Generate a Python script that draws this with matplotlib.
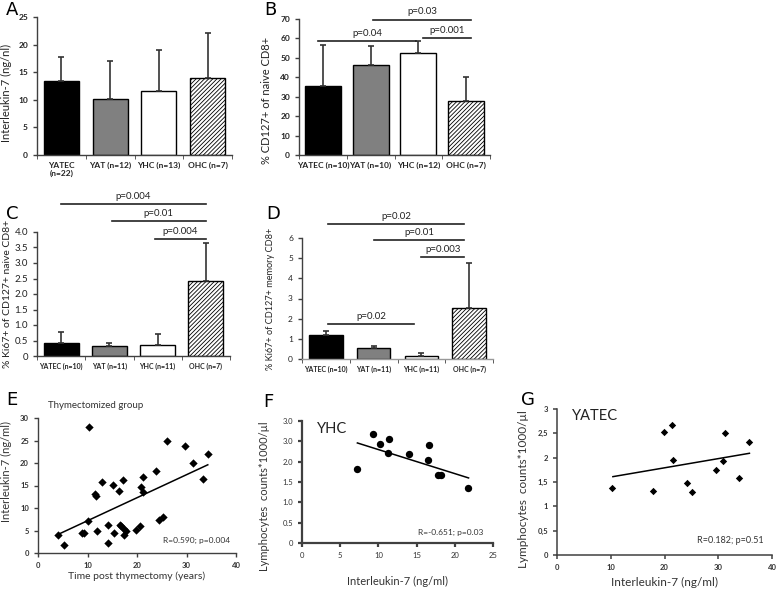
import numpy as np
import matplotlib
matplotlib.use("Agg")
import matplotlib.pyplot as plt

plt.rcParams['font.family'] = ['Lato', 'DejaVu Sans']
plt.rcParams['hatch.linewidth'] = 0.6

W, H = 778, 591

# Panel A-D : bar charts (mean, top of the error bar)
labels_a = ["YATEC\n(n=22)", "YAT (n=12)", "YHC (n=13)", "OHC (n=7)"]
il7_mean = [13.4, 10.2, 11.6, 13.9]
il7_top = [17.8, 17.1, 19.1, 22.1]

labels_b = ["YATEC (n=10)", "YAT (n=10)", "YHC (n=12)", "OHC (n=7)"]
cd127_mean = [35.3, 46.5, 52.3, 28.0]
cd127_top = [56.7, 56.0, 58.5, 40.0]

labels_c = ["YATEC (n=10)", "YAT (n=11)", "YHC (n=11)", "OHC (n=7)"]
ki67_naive_mean = [0.43, 0.33, 0.35, 2.43]
ki67_naive_top = [0.78, 0.43, 0.70, 3.63]

labels_d = ["YATEC (n=10)", "YAT (n=11)", "YHC (n=11)", "OHC (n=7)"]
ki67_mem_mean = [1.20, 0.55, 0.17, 2.55]
ki67_mem_top = [1.38, 0.65, 0.28, 4.75]

# significance brackets: start, end (category index), height, label
sig_b = [(1.05, 3.1, 69.5, "p=0.03"), (2.1, 3.1, 60.2, "p=0.001"),
         (-0.1, 1.95, 58.5, "p=0.04")]
sig_c = [(0.0, 3.0, 4.9, "p=0.004"), (1.05, 3.0, 4.35, "p=0.01"),
         (1.95, 3.0, 3.77, "p=0.004")]
sig_d = [(0.05, 2.9, 6.68, "p=0.02"), (1.0, 2.9, 5.89, "p=0.01"),
         (2.0, 2.9, 5.05, "p=0.003"), (0.05, 1.85, 1.73, "p=0.02")]

# Panel E : thymectomized group
time_post = [4.0, 5.2, 8.8, 9.2, 10.1, 10.3, 11.6, 11.7, 11.9, 12.9, 14.1, 14.2,
             15.2, 15.3, 16.4, 16.6, 16.8, 17.2, 17.3, 17.4, 17.8, 19.7, 20.7,
             20.9, 21.2, 21.3, 23.8, 24.4, 25.2, 26.1, 29.6, 31.4, 33.3, 34.3]
il7_thym = [3.9, 1.7, 4.4, 4.5, 7.2, 27.9, 13.2, 12.7, 4.85, 15.7, 6.3, 2.2,
            15.1, 4.4, 13.7, 6.25, 5.9, 16.2, 5.4, 4.0, 5.0, 5.2, 6.0,
            14.6, 13.5, 16.8, 18.2, 7.4, 7.9, 24.9, 23.8, 20.0, 16.5, 22.1]
trend_e_x = [4.0, 34.3]
trend_e_y = [4.1, 19.6]

# Panel F : YHC
il7_yhc = [7.25, 9.3, 10.2, 11.4, 11.27, 14.06, 16.6, 16.5, 17.8, 18.2, 21.75]
lym_yhc = [1.82, 2.68, 2.43, 2.56, 2.21, 2.18, 2.42, 2.03, 1.66, 1.66, 1.36]
trend_f_x = [7.25, 21.8]
trend_f_y = [2.46, 1.60]
yticks_f = ["0", "0.5", "1.0", "1.5", "2.0", "3.0", "3.0"]

# Panel G : YATEC
il7_yatec = [10.3, 17.8, 19.9, 21.4, 21.6, 24.1, 25.2, 29.6, 30.9, 31.2, 33.9, 35.7]
lym_yatec = [1.37, 1.32, 2.52, 2.67, 1.95, 1.48, 1.30, 1.74, 1.94, 2.51, 1.58, 2.33]
trend_g_x = [10.4, 35.8]
trend_g_y = [1.61, 2.09]
yticks_g = ["0", "0,5", "1", "1,5", "2", "2,5", "3"]

bar_colors = ["black", "#808080", "white", "white"]
AX_COL = "#404040"
TXT = "#333333"

fig = plt.figure(figsize=(W / 100, H / 100), dpi=100)


def px_axes(l, t, r, b):
    return fig.add_axes([l / W, 1 - b / H, (r - l) / W, (b - t) / H])


def panel_letter(x, y, s):
    fig.text(x / W, 1 - y / H, s, fontsize=13, family='DejaVu Sans',
             va='top', ha='left')


def style_axes(ax, lw=1.0):
    ax.spines['top'].set_visible(False)
    ax.spines['right'].set_visible(False)
    for s in ('left', 'bottom'):
        ax.spines[s].set_color(AX_COL)
        ax.spines[s].set_linewidth(lw)
    ax.tick_params(colors=AX_COL, width=lw, length=3, direction='out')


def bar_panel(ax, labels, means, tops, ymax, ystep, ylabels, ylabel,
              width=0.72, xfs=6, yfs=6, bold=True, ylfs=8):
    x = np.arange(len(means))
    bars = ax.bar(x, means, width, color=bar_colors, edgecolor='black',
                  linewidth=1.0, zorder=2)
    bars[3].set_hatch('////////')
    err = np.array(tops) - np.array(means)
    ax.errorbar(x, means, yerr=[np.zeros(len(x)), err], fmt='none',
                ecolor='#333333', elinewidth=1.2, capsize=2, capthick=1.2,
                zorder=3)
    ax.set_xlim(-0.5, 3.5)
    ax.set_ylim(0, ymax)
    style_axes(ax)
    ax.set_xticks(x)
    ax.set_xticks(np.arange(-0.5, 4, 1), minor=True)
    ax.tick_params(axis='x', which='major', length=0, pad=5)
    ax.tick_params(axis='x', which='minor', length=3, color=AX_COL)
    ax.set_xticklabels(labels, fontsize=xfs, fontweight='bold', color='#222222')
    ax.set_yticks(np.arange(0, ymax + ystep / 2, ystep))
    ax.set_yticklabels(ylabels, fontsize=yfs,
                       fontweight='bold' if bold else 'normal', color='#222222')
    ax.set_ylabel(ylabel, fontsize=ylfs, color='#222222')


def brackets(ax, sigs, fs=7):
    for a, b, y, lab in sigs:
        ax.plot([a, b], [y, y], color='#222222', lw=1.2, clip_on=False,
                zorder=4)
        ax.annotate(lab, ((a + b) / 2, y), xytext=(0, 2.5),
                    textcoords='offset points', ha='center', va='bottom',
                    fontsize=fs, color='#222222', annotation_clip=False)


# A
ax = px_axes(37, 17, 232, 155)
bar_panel(ax, labels_a, il7_mean, il7_top, 25, 5,
          ["0", "5", "10", "15", "20", "25"], "Interleukin-7 (ng/nl)")
ax.yaxis.set_label_coords(-0.13, 0.45)
panel_letter(6, 1, "A")

# B
ax = px_axes(299, 19, 490, 155)
bar_panel(ax, labels_b, cd127_mean, cd127_top, 70, 10,
          [str(v) for v in range(0, 71, 10)], "% CD127+ of naive CD8+",
          width=0.75, ylfs=8)
ax.yaxis.set_label_coords(-0.14, 0.4)
brackets(ax, sig_b)
panel_letter(264, 1, "B")

# C
ax = px_axes(37, 232, 230, 356)
bar_panel(ax, labels_c, ki67_naive_mean, ki67_naive_top, 4.0, 0.5,
          ["0", "0.5", "1.0", "1.5", "2.0", "2.5", "3.0", "3.5", "4.0"],
          "% Ki67+ of CD127+ naive CD8+", width=0.73, xfs=5, yfs=7,
          bold=False, ylfs=7.5)
ax.yaxis.set_label_coords(-0.13, 0.5)
brackets(ax, sig_c)
panel_letter(6, 205, "C")

# D
ax = px_axes(302, 238, 493, 359)
bar_panel(ax, labels_d, ki67_mem_mean, ki67_mem_top, 6, 1,
          [str(v) for v in range(0, 7)], "% Ki67+ of CD127+ memory CD8+",
          width=0.7, xfs=5, yfs=6, bold=False, ylfs=6.6)
ax.spines['bottom'].set_color('#999999')
ax.yaxis.set_label_coords(-0.14, 0.5)
brackets(ax, sig_d)
panel_letter(266, 205, "D")

# E
ax = px_axes(38, 418, 236, 553)
ax.scatter(time_post, il7_thym, marker='D', s=18, color='black', zorder=3,
           linewidths=0)
ax.plot(trend_e_x, trend_e_y, color='black', lw=1.1)
ax.set_xlim(0, 40)
ax.set_ylim(0, 30)
style_axes(ax)
ax.set_xticks(range(0, 41, 10))
ax.set_yticks(range(0, 31, 5))
ax.tick_params(labelsize=5.5)
for t in ax.get_xticklabels() + ax.get_yticklabels():
    t.set_fontweight('bold')
    t.set_color(TXT)
ax.set_xlabel("Time post thymectomy (years)", fontsize=7.5, color=TXT,
              labelpad=2)
ax.set_ylabel("Interleukin-7 (ng/ml)", fontsize=8, color=TXT)
ax.yaxis.set_label_coords(-0.13, 0.6)
ax.text(0.97, 0.07, "R=0.590; p=0.004", transform=ax.transAxes, ha='right',
        va='bottom', fontsize=6, color=TXT)
ax.text(0.05, 1.06, "Thymectomized group", transform=ax.transAxes, ha='left',
        va='bottom', fontsize=7, color=TXT)
panel_letter(6, 391, "E")

# F
ax = px_axes(302, 421, 493, 543)
ax.scatter(il7_yhc, lym_yhc, marker='o', s=28, color='black', zorder=3,
           linewidths=0)
ax.plot(trend_f_x, trend_f_y, color='black', lw=1.1)
ax.set_xlim(0, 25)
ax.set_ylim(0, 3.0)
style_axes(ax, lw=1.6)
ax.set_xticks(range(0, 26, 5))
ax.set_yticks(np.arange(0, 3.01, 0.5))
ax.set_yticklabels(yticks_f)
ax.tick_params(labelsize=5.5, labelcolor=TXT)
ax.set_xlabel("Interleukin-7 (ng/ml)", fontsize=8, color=TXT, labelpad=12)
ax.set_ylabel("Lymphocytes  counts*1000/\u00b5l", fontsize=8, color=TXT)
ax.yaxis.set_label_coords(-0.17, 0.38)
ax.text(0.95, 0.06, "R=-0.651; p=0.03", transform=ax.transAxes, ha='right',
        va='bottom', fontsize=6, color=TXT)
ax.text(0.08, 0.99, "YHC", transform=ax.transAxes, ha='left', va='top',
        fontsize=10.5, color='#222222')
panel_letter(263, 393, "F")

# G
ax = px_axes(557, 409, 772, 555)
ax.scatter(il7_yatec, lym_yatec, marker='D', s=14, color='black', zorder=3,
           linewidths=0)
ax.plot(trend_g_x, trend_g_y, color='black', lw=1.1)
ax.set_xlim(0, 40)
ax.set_ylim(0, 3)
style_axes(ax, lw=1.1)
ax.set_xticks(range(0, 41, 10))
ax.set_yticks(np.arange(0, 3.01, 0.5))
ax.set_yticklabels(yticks_g)
ax.tick_params(labelsize=5.5)
for t in ax.get_xticklabels() + ax.get_yticklabels():
    t.set_fontweight('bold')
    t.set_color(TXT)
ax.set_xlabel("Interleukin-7 (ng/ml)", fontsize=8.5, color=TXT, labelpad=4)
ax.set_ylabel("Lymphocytes  counts*1000/\u00b5l", fontsize=8.5, color=TXT)
ax.yaxis.set_label_coords(-0.13, 0.45)
ax.text(0.96, 0.07, "R=0.182; p=0.51", transform=ax.transAxes, ha='right',
        va='bottom', fontsize=6.5, color=TXT)
ax.text(0.07, 1.0, "YATEC", transform=ax.transAxes, ha='left', va='top',
        fontsize=10.5, color='#222222')
panel_letter(521, 391, "G")

fig.savefig("out.png", dpi=100)
plt.close(fig)
